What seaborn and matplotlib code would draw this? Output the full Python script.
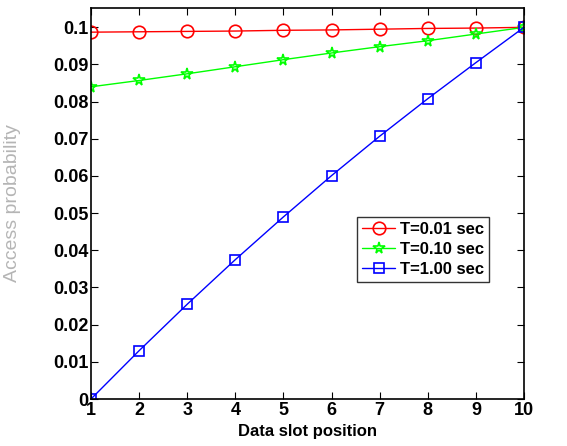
import matplotlib
matplotlib.use("Agg")
import matplotlib.pyplot as plt
import seaborn as sns
import pandas as pd
import numpy as np

slots = [1, 2, 3, 4, 5, 6, 7, 8, 9, 10]
t001 = [0.0987, 0.0988, 0.0989, 0.0990, 0.0992, 0.0993, 0.0995, 0.0997, 0.0998, 0.1000]
t010 = [0.0840, 0.0857, 0.0875, 0.0894, 0.0913, 0.0931, 0.0948, 0.0964, 0.0982, 0.1000]
t100 = [0.0000, 0.0130, 0.0255, 0.0375, 0.0490, 0.0601, 0.0707, 0.0808, 0.0905, 0.1000]
labels = ["T=0.01 sec", "T=0.10 sec", "T=1.00 sec"]
yticks = [0, 0.01, 0.02, 0.03, 0.04, 0.05, 0.06, 0.07, 0.08, 0.09, 0.1]
yticklabels = ["0", "0.01", "0.02", "0.03", "0.04", "0.05", "0.06", "0.07", "0.08", "0.09", "0.1"]

sns.set_style("ticks")
plt.rcParams['font.family'] = ['Liberation Sans', 'DejaVu Sans']
plt.rcParams['font.weight'] = 'bold'
plt.rcParams['text.color'] = 'black'
plt.rcParams['xtick.color'] = 'black'
plt.rcParams['ytick.color'] = 'black'
plt.rcParams['axes.labelcolor'] = 'black'

df = pd.DataFrame({
    "slot": slots * 3,
    "value": t001 + t010 + t100,
    "series": [labels[0]] * 10 + [labels[1]] * 10 + [labels[2]] * 10,
})

fig = plt.figure(figsize=(5.67, 4.46), dpi=100)
ax = fig.add_axes([91 / 567, 47 / 446, (524 - 91) / 567, (399 - 8) / 446])

colors = ["#ff0000", "#00ff00", "#0000ff"]
markers = ["o", "*", "s"]
msizes = [9, 8.5, 7]
for lab, c, m, ms in zip(labels, colors, markers, msizes):
    sub = df[df.series == lab]
    sns.lineplot(data=sub, x="slot", y="value", ax=ax, color=c, marker=m,
                 markersize=ms, markerfacecolor="none", markeredgecolor=c,
                 markeredgewidth=1.2, linewidth=1.0, label=lab)

ax.set_xlim(1, 10)
ax.set_ylim(0, 0.1052)
ax.set_xticks(slots)
ax.set_xticklabels([str(s) for s in slots], fontsize=13, fontweight='bold')
ax.set_yticks(yticks)
ax.set_yticklabels(yticklabels, fontsize=13, fontweight='bold')
ax.tick_params(direction='in', top=True, right=True, length=5, width=0.8, pad=2)
for sp in ax.spines.values():
    sp.set_visible(True)
    sp.set_linewidth(1.2)
    sp.set_color("black")
ax.set_xlabel("Data slot position", fontsize=12, fontweight='bold', labelpad=4)
ax.set_ylabel("Access probability", fontsize=14, color="#b5b5b5", fontweight='normal')
ax.yaxis.set_label_coords(-(91 - 21) / 433, 0.50)

leg = ax.legend(loc="upper left", bbox_to_anchor=((357 - 91) / 433, 1 - (217 - 8) / 391),
                borderaxespad=0, fontsize=12, frameon=True, fancybox=False, edgecolor="black",
                handlelength=2.0, borderpad=0.3, labelspacing=0.3, handletextpad=0.3)
leg.get_frame().set_linewidth(1.0)
for t in leg.get_texts():
    t.set_fontweight('bold')

fig.savefig("out.png", dpi=100, facecolor="white")
